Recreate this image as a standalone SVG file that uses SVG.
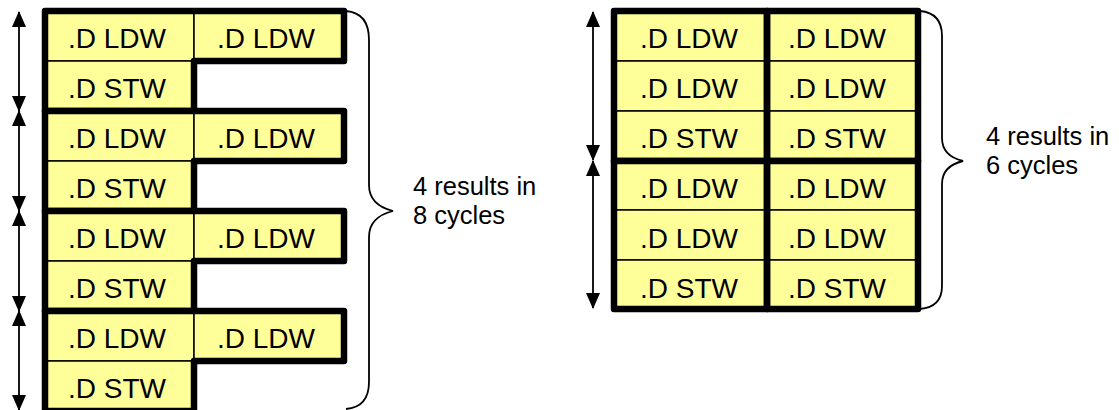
<svg xmlns="http://www.w3.org/2000/svg" width="1119" height="410" viewBox="0 0 1119 410">
<style>
.cell{fill:#FFFF99;stroke:#000;stroke-width:1.5}
.outl{fill:none;stroke:#000;stroke-width:6.5;stroke-linejoin:round}
.lbl{font-family:"Liberation Sans",Arial,sans-serif;font-size:28px;text-anchor:middle;fill:#000}
.note{font-family:"Liberation Sans",Arial,sans-serif;font-size:25.5px;fill:#000}
.arr{stroke:#000;stroke-width:1.8;fill:none;marker-start:url(#ah);marker-end:url(#ah)}
.brace{fill:none;stroke:#000;stroke-width:1.8}
</style>
<defs>
<marker id="ah" viewBox="0 0 16 14" refX="15" refY="7" markerWidth="16" markerHeight="14" markerUnits="userSpaceOnUse" orient="auto-start-reverse">
<path d="M0,0 L16,7 L0,14 Z" fill="#000"/>
</marker>
</defs>
<g id="left-g1">
<rect class="cell" x="45" y="11" width="149" height="50"/><rect class="cell" x="194" y="11" width="150" height="50"/><rect class="cell" x="45" y="61" width="149" height="50"/>
<path class="outl" d="M45,11 H344 V61 H194 V111 H45 Z"/>
<text class="lbl" x="117" y="48">.D LDW</text><text class="lbl" x="266" y="48">.D LDW</text><text class="lbl" x="117" y="98">.D STW</text>
</g>
<g id="left-g2">
<rect class="cell" x="45" y="111" width="149" height="50"/><rect class="cell" x="194" y="111" width="150" height="50"/><rect class="cell" x="45" y="161" width="149" height="50"/>
<path class="outl" d="M45,111 H344 V161 H194 V211 H45 Z"/>
<text class="lbl" x="117" y="148">.D LDW</text><text class="lbl" x="266" y="148">.D LDW</text><text class="lbl" x="117" y="198">.D STW</text>
</g>
<g id="left-g3">
<rect class="cell" x="45" y="211" width="149" height="50"/><rect class="cell" x="194" y="211" width="150" height="50"/><rect class="cell" x="45" y="261" width="149" height="50"/>
<path class="outl" d="M45,211 H344 V261 H194 V311 H45 Z"/>
<text class="lbl" x="117" y="248">.D LDW</text><text class="lbl" x="266" y="248">.D LDW</text><text class="lbl" x="117" y="298">.D STW</text>
</g>
<g id="left-g4">
<rect class="cell" x="45" y="311" width="149" height="50"/><rect class="cell" x="194" y="311" width="150" height="50"/><rect class="cell" x="45" y="361" width="149" height="50"/>
<path class="outl" d="M45,311 H344 V361 H194 V411 H45 Z"/>
<text class="lbl" x="117" y="348">.D LDW</text><text class="lbl" x="266" y="348">.D LDW</text><text class="lbl" x="117" y="398">.D STW</text>
</g>
<g id="right-top">
<rect class="cell" x="614" y="11" width="153" height="50"/><rect class="cell" x="614" y="61" width="153" height="50"/><rect class="cell" x="614" y="111" width="153" height="50"/>
<rect class="cell" x="767" y="11" width="151" height="50"/><rect class="cell" x="767" y="61" width="151" height="50"/><rect class="cell" x="767" y="111" width="151" height="50"/>
<rect class="outl" x="614" y="11" width="153" height="150"/><rect class="outl" x="767" y="11" width="151" height="150"/>
<text class="lbl" x="689" y="48">.D LDW</text><text class="lbl" x="837" y="48">.D LDW</text>
<text class="lbl" x="689" y="98">.D LDW</text><text class="lbl" x="837" y="98">.D LDW</text>
<text class="lbl" x="689" y="148">.D STW</text><text class="lbl" x="837" y="148">.D STW</text>
</g>
<g id="right-bottom">
<rect class="cell" x="614" y="161" width="153" height="49"/><rect class="cell" x="614" y="210" width="153" height="50"/><rect class="cell" x="614" y="260" width="153" height="49"/>
<rect class="cell" x="767" y="161" width="151" height="49"/><rect class="cell" x="767" y="210" width="151" height="50"/><rect class="cell" x="767" y="260" width="151" height="49"/>
<rect class="outl" x="614" y="161" width="153" height="148"/><rect class="outl" x="767" y="161" width="151" height="148"/>
<text class="lbl" x="689" y="198">.D LDW</text><text class="lbl" x="837" y="198">.D LDW</text>
<text class="lbl" x="689" y="248">.D LDW</text><text class="lbl" x="837" y="248">.D LDW</text>
<text class="lbl" x="689" y="298">.D STW</text><text class="lbl" x="837" y="298">.D STW</text>
</g>
<g id="connectors">
<line class="arr" x1="19" y1="12" x2="19" y2="111"/>
<line class="arr" x1="19" y1="111" x2="19" y2="211"/>
<line class="arr" x1="19" y1="211" x2="19" y2="311"/>
<line class="arr" x1="19" y1="311" x2="19" y2="410"/>
<line class="arr" x1="593" y1="12" x2="593" y2="160"/>
<line class="arr" x1="593" y1="161" x2="593" y2="308"/>
<path class="brace" d="M346,11 Q369,13 369,40 V185 Q369,205 393,211 Q369,217 369,237 V382 Q369,407 346,409"/>
<path class="brace" d="M920,11 Q942,13 942,36 V138 Q942,156 963,161 Q942,166 942,184 V286 Q942,307 920,309"/>
</g>
<g id="notes">
<text class="note" x="413" y="195">4 results in</text>
<text class="note" x="413" y="224">8 cycles</text>
<text class="note" x="986" y="145">4 results in</text>
<text class="note" x="986" y="174">6 cycles</text>
</g>
</svg>
